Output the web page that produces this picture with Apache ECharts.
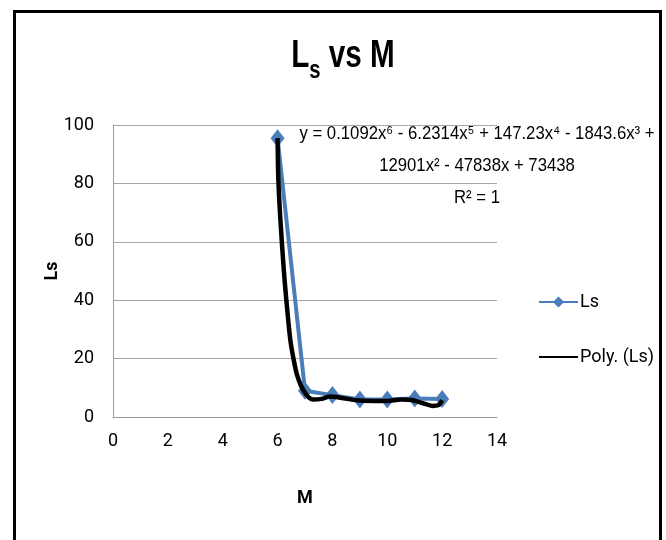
<!DOCTYPE html>
<html>
<head>
<meta charset="utf-8">
<script src="https://cdn.jsdelivr.net/npm/echarts@6/dist/echarts.min.js"></script>
<style>
  html, body { margin: 0; padding: 0; background: #fff; }
  #chart { width: 666px; height: 540px; }
</style>
</head>
<body>
<div id="chart"></div>
<script>
// Measured Ls at each M
const mValues = [6, 7, 8, 9, 10, 11, 12];
const lsValues = [95.5, 9, 7.5, 6, 6, 6.3, 6.2];

// 6th-order polynomial trendline, sampled along its course
const polyM = [6.0, 6.03, 6.1, 6.23, 6.35, 6.47, 6.6, 6.71, 6.85, 7.0, 7.15, 7.3, 7.6, 7.9, 8.3, 8.9, 9.5, 10.0, 10.5, 10.9, 11.3, 11.65, 11.85, 12.0];
const polyLs = [95.5, 81, 68, 50, 37, 26, 19, 14.4, 10.8, 8.3, 6.6, 6.0, 6.2, 7.0, 6.6, 5.7, 5.5, 5.5, 6.0, 5.8, 4.7, 3.8, 4.0, 5.8];

const xTicks = { min: 0, max: 14, interval: 2 };
const yTicks = { min: 0, max: 100, interval: 20 };

const equationLines = [
  'y = 0.1092x\u2076 - 6.2314x\u2075 + 147.23x\u2074 - 1843.6x\u00b3 +',
  '12901x\u00b2 - 47838x + 73438',
  'R\u00b2 = 1'
];

const SANS = "'Liberation Sans', Arial, sans-serif";
const LABEL_FONT = "Roboto, 'Liberation Sans', sans-serif";

const lsData = mValues.map((m, i) => [m, lsValues[i]]);
const polyData = polyM.map((m, i) => [m, polyLs[i]]);

const chart = echarts.init(document.getElementById('chart'), null, { renderer: 'canvas' });

chart.setOption({
  backgroundColor: '#ffffff',
  animation: false,
  legend: {
    orient: 'vertical',
    left: 533,
    top: 288,
    itemGap: 37,
    itemWidth: 39,
    itemHeight: 14,
    textStyle: { fontFamily: LABEL_FONT, fontSize: 18, color: '#000', padding: [0, 0, 0, -3] },
    data: [
      { name: 'Ls' },
      { name: 'Poly. (Ls)', itemStyle: { opacity: 0 } }
    ]
  },
  grid: { left: 113, right: 169, top: 125, bottom: 123 },
  xAxis: {
    type: 'value',
    min: xTicks.min,
    max: xTicks.max,
    interval: xTicks.interval,
    name: 'M',
    nameLocation: 'middle',
    nameGap: 72,
    nameTextStyle: { fontFamily: LABEL_FONT, fontWeight: 'bold', fontSize: 18, color: '#000' },
    axisLine: { show: true, lineStyle: { color: '#9a9a9a', width: 1 } },
    axisTick: { show: false },
    axisLabel: { fontFamily: LABEL_FONT, fontSize: 18, color: '#000', margin: 15 },
    splitLine: { show: false }
  },
  yAxis: {
    type: 'value',
    min: yTicks.min,
    max: yTicks.max,
    interval: yTicks.interval,
    name: 'Ls',
    nameLocation: 'middle',
    nameGap: 52,
    nameMoveOverlap: false,
    nameRotate: 90,
    nameTextStyle: { fontFamily: LABEL_FONT, fontWeight: 'bold', fontSize: 18, color: '#000' },
    axisLine: { show: true, lineStyle: { color: '#9a9a9a', width: 1 } },
    axisTick: { show: false },
    axisLabel: { fontFamily: LABEL_FONT, fontSize: 18, color: '#000', margin: 19 },
    splitLine: { show: true, lineStyle: { color: '#a6a6a6', width: 1 } }
  },
  series: [
    {
      name: 'Ls',
      type: 'line',
      data: lsData,
      symbol: 'diamond',
      symbolSize: [14, 18],
      itemStyle: { color: '#4a7ebb' },
      lineStyle: { color: '#4a7ebb', width: 4 },
      z: 2
    },
    {
      name: 'Poly. (Ls)',
      type: 'line',
      data: polyData,
      smooth: 0.3,
      symbol: 'none',
      itemStyle: { color: '#000' },
      lineStyle: { color: '#000', width: 4.5 },
      z: 3
    }
  ],
  graphic: [
    {
      type: 'rect',
      shape: { x: 14.5, y: 11.5, width: 646, height: 600 },
      style: { fill: 'none', stroke: '#000', lineWidth: 3 },
      silent: true
    },
    {
      // chart title, condensed horizontally
      type: 'group',
      x: 343,
      y: 38,
      scaleX: 0.78,
      children: [{
        type: 'text',
        style: {
          text: '{main|L}{sub|s}{main| vs M}',
          align: 'center',
          verticalAlign: 'top',
          rich: {
            main: {
              fontFamily: SANS, fontWeight: 'bold', fontSize: 38, lineHeight: 40,
              fill: '#000', verticalAlign: 'top'
            },
            sub: {
              fontFamily: SANS, fontWeight: 'bold', fontSize: 26, lineHeight: 26,
              fill: '#000', verticalAlign: 'top', padding: [20, 0, 0, 0]
            }
          }
        }
      }]
    },
    {
      // trendline equation, condensed horizontally
      type: 'group',
      x: 477,
      y: 118,
      scaleX: 0.88,
      z: 10,
      children: [{
        type: 'text',
        style: {
          text: equationLines.join('\n'),
          align: 'center',
          verticalAlign: 'top',
          fontFamily: SANS,
          fontSize: 19,
          lineHeight: 32,
          fill: '#000'
        }
      }]
    }
  ]
});
</script>
</body>
</html>
